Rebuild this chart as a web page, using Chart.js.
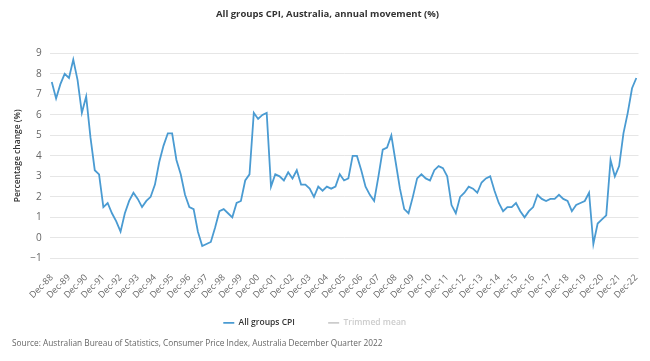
<!DOCTYPE html>
<html>
<head>
<meta charset="utf-8">
<script src="https://cdn.jsdelivr.net/npm/chart.js@4.4.0/dist/chart.umd.min.js"></script>
<style>
  html, body { margin: 0; padding: 0; background: #fff; }
  #wrap { width: 650px; height: 361px; }
</style>
</head>
<body>
<div id="wrap"><canvas id="chart"></canvas></div>
<script>
// quarters Dec-88 .. Dec-22
const months = ["Mar", "Jun", "Sep", "Dec"]
const firstYear = 1989
const lastYear = 2022

const quarters = ["Dec-88"]
for (let y = firstYear; y <= lastYear; y++) {
    for (const m of months) quarters.push(m + "-" + String(y).slice(2))
}

// All groups CPI, annual movement (%)
const cpi = [
    7.6,
    6.8, 7.5, 8.0, 7.8,   // 1989
    8.7, 7.7, 6.1, 6.9,   // 1990
    4.9, 3.3, 3.1, 1.5,   // 1991
    1.7, 1.2, 0.8, 0.3,   // 1992
    1.2, 1.8, 2.2, 1.9,   // 1993
    1.5, 1.8, 2.0, 2.6,   // 1994
    3.7, 4.5, 5.1, 5.1,   // 1995
    3.8, 3.1, 2.1, 1.5,   // 1996
    1.4, 0.3, -0.4, -0.3, // 1997
    -0.2, 0.5, 1.3, 1.4,  // 1998
    1.2, 1.0, 1.7, 1.8,   // 1999
    2.8, 3.1, 6.1, 5.8,   // 2000
    6.0, 6.1, 2.5, 3.1,   // 2001
    3.0, 2.8, 3.2, 2.9,   // 2002
    3.3, 2.6, 2.6, 2.4,   // 2003
    2.0, 2.5, 2.3, 2.5,   // 2004
    2.4, 2.5, 3.1, 2.8,   // 2005
    2.9, 4.0, 4.0, 3.3,   // 2006
    2.5, 2.1, 1.8, 3.0,   // 2007
    4.3, 4.4, 5.0, 3.7,   // 2008
    2.4, 1.4, 1.2, 2.0,   // 2009
    2.9, 3.1, 2.9, 2.8,   // 2010
    3.3, 3.5, 3.4, 3.0,   // 2011
    1.6, 1.2, 2.0, 2.2,   // 2012
    2.5, 2.4, 2.2, 2.7,   // 2013
    2.9, 3.0, 2.3, 1.7,   // 2014
    1.3, 1.5, 1.5, 1.7,   // 2015
    1.3, 1.0, 1.3, 1.5,   // 2016
    2.1, 1.9, 1.8, 1.9,   // 2017
    1.9, 2.1, 1.9, 1.8,   // 2018
    1.3, 1.6, 1.7, 1.8,   // 2019
    2.2, -0.3, 0.7, 0.9,  // 2020
    1.1, 3.8, 3.0, 3.5,   // 2021
    5.1, 6.1, 7.3, 7.8    // 2022
]

const yTicks = [-1, 0, 1, 2, 3, 4, 5, 6, 7, 8, 9]

const FONT = "'Open Sans', 'Noto Sans', sans-serif"
const lineColor = "#4a9bd2"
const greyed = "#cccccc"

new Chart(document.getElementById("chart"), {
    type: "line",
    data: {
        labels: quarters,
        datasets: [
            {
                label: "All groups CPI",
                data: cpi,
                borderColor: lineColor,
                backgroundColor: lineColor,
                borderWidth: 1.8,
                pointRadius: 0,
                tension: 0,
            },
            {
                label: "Trimmed mean",
                data: [],
                hidden: true,
                borderColor: greyed,
                backgroundColor: greyed,
                borderWidth: 1.8,
                pointRadius: 0,
            },
        ],
    },
    options: {
        responsive: true,
        maintainAspectRatio: false,
        animation: false,
        layout: { padding: { left: 12, right: 7, top: 0, bottom: 4 } },
        scales: {
            x: {
                offset: true,
                grid: { display: false },
                border: { display: false },
                ticks: {
                    autoSkip: false,
                    maxRotation: 45,
                    minRotation: 45,
                    color: "#666",
                    font: { family: FONT, size: 9 },
                    padding: 6,
                    callback: (v, i) => (i % 4 === 0 ? quarters[i] : ""),
                },
            },
            y: {
                min: -1,
                max: 9,
                afterBuildTicks: (axis) => { axis.ticks = yTicks.map((v) => ({ value: v })) },
                grid: { color: "#e6e6e6", drawTicks: false },
                border: { display: false },
                ticks: {
                    color: "#666",
                    padding: 8,
                    font: { family: FONT, size: 10 },
                    callback: (v) => (v < 0 ? "\u2212" + Math.abs(v) : v),
                },
                title: {
                    display: true,
                    text: "Percentage change (%)",
                    color: "#333",
                    font: { family: FONT, size: 8.5, weight: "600" },
                    padding: { top: 0, bottom: 0 },
                },
            },
        },
        plugins: {
            title: {
                display: true,
                text: "All groups CPI, Australia, annual movement (%)",
                color: "#333",
                font: { family: FONT, size: 9.5, weight: "700" },
                padding: { top: 9, bottom: 33 },
            },
            subtitle: {
                display: true,
                position: "bottom",
                align: "start",
                text: "Source: Australian Bureau of Statistics, Consumer Price Index, Australia December Quarter 2022",
                color: "#666",
                font: { family: FONT, size: 8.3 },
                padding: { top: 2, bottom: 8 },
            },
            legend: {
                position: "bottom",
                onClick: () => {},
                labels: {
                    usePointStyle: true,
                    pointStyle: "line",
                    pointStyleWidth: 11,
                    padding: 12,
                    color: "#333",
                    font: { family: FONT, size: 8.5, weight: "600" },
                    generateLabels: (chart) => {
                        const items = Chart.defaults.plugins.legend.labels.generateLabels(chart)
                        items.forEach((it, i) => {
                            if (it.hidden) {
                                it.fontColor = greyed
                                it.strokeStyle = greyed
                                it.hidden = false
                            }
                            // spacing between entries, and the legend sits a little left of centre
                            it.text += i < items.length - 1 ? "\u2003\u2003\u2002" : "\u2003\u2003\u2003"
                            it.pointStyle = "line"
                        })
                        return items
                    },
                },
            },
            tooltip: { enabled: false },
        },
    },
})
</script>
</body>
</html>
